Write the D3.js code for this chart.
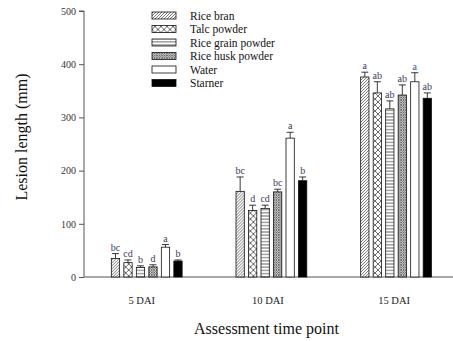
<!DOCTYPE html>
<html>
<head>
<meta charset="utf-8">
<script src="https://cdn.jsdelivr.net/npm/d3@7"></script>
<style>
  html, body { margin: 0; padding: 0; background: #fff; }
  svg { display: block; font-family: "Liberation Serif", "Times New Roman", serif; }
</style>
</head>
<body>
<svg id="chart" width="453" height="341"></svg>
<script>
const categories = ["5 DAI", "10 DAI", "15 DAI"];
const series = ["Rice bran", "Talc powder", "Rice grain powder", "Rice husk powder", "Water", "Starner"];
const riceBran   = [35, 161, 376];
const talc       = [27, 125, 346];
const riceGrain  = [18, 129, 316];
const riceHusk   = [19, 160, 342];
const water      = [56, 261, 367];
const starner    = [30, 181, 336];
const riceBranErr  = [9, 27, 9];
const talcErr      = [5, 10, 21];
const riceGrainErr = [3, 6, 15];
const riceHuskErr  = [4, 5, 19];
const waterErr     = [5, 11, 17];
const starnerErr   = [2, 7, 10];
const riceBranLet  = ["bc", "bc", "a"];
const talcLet      = ["cd", "d", "ab"];
const riceGrainLet = ["b", "cd", "ab"];
const riceHuskLet  = ["d", "bc", "ab"];
const waterLet     = ["a", "a", "a"];
const starnerLet   = ["b", "b", "ab"];
const yTicks = [0, 100, 200, 300, 400, 500];

const values = [riceBran, talc, riceGrain, riceHusk, water, starner];
const errs = [riceBranErr, talcErr, riceGrainErr, riceHuskErr, waterErr, starnerErr];
const lets = [riceBranLet, talcLet, riceGrainLet, riceHuskLet, waterLet, starnerLet];
const fills = ["url(#pBran)", "url(#pTalc)", "url(#pGrain)", "url(#pHusk)", "#ffffff", "#000000"];

const svg = d3.select("#chart");
const defs = svg.append("defs");

// patterns
const pBran = defs.append("pattern").attr("id", "pBran").attr("patternUnits", "userSpaceOnUse")
  .attr("width", 3).attr("height", 3);
pBran.append("rect").attr("width", 3).attr("height", 3).attr("fill", "#fff");
pBran.append("path").attr("d", "M0,3 L3,0 M-1,1 L1,-1 M2,4 L4,2").attr("stroke", "#555").attr("stroke-width", 0.8);

const pTalc = defs.append("pattern").attr("id", "pTalc").attr("patternUnits", "userSpaceOnUse")
  .attr("width", 6).attr("height", 6);
pTalc.append("rect").attr("width", 6).attr("height", 6).attr("fill", "#fff");
pTalc.append("path").attr("d", "M0,0 L6,6 M6,0 L0,6").attr("stroke", "#444").attr("stroke-width", 0.8);

const pGrain = defs.append("pattern").attr("id", "pGrain").attr("patternUnits", "userSpaceOnUse")
  .attr("width", 4).attr("height", 3.2);
pGrain.append("rect").attr("width", 4).attr("height", 3.2).attr("fill", "#fff");
pGrain.append("path").attr("d", "M0,1.6 L4,1.6").attr("stroke", "#333").attr("stroke-width", 0.8);

const pHusk = defs.append("pattern").attr("id", "pHusk").attr("patternUnits", "userSpaceOnUse")
  .attr("width", 2.5).attr("height", 2.5);
pHusk.append("rect").attr("width", 2.5).attr("height", 2.5).attr("fill", "#ddd");
pHusk.append("path").attr("d", "M0,0 L2.5,2.5 M2.5,0 L0,2.5").attr("stroke", "#555").attr("stroke-width", 0.7);

// scales
const y = d3.scaleLinear().domain([0, 500]).range([277, 11]);
const x0 = d3.scaleBand().domain(categories).range([84.4, 458.4]).padding(0);
const x1 = d3.scaleBand().domain(series).range([-37.5, 37.5]).paddingInner(0.336).paddingOuter(0.168);

const axisColor = "#555";

// y axis
const yAxis = svg.append("g").attr("transform", "translate(84,0)")
  .call(d3.axisLeft(y).tickValues(yTicks).tickSize(5).tickPadding(3));
yAxis.selectAll("path, line").attr("stroke", axisColor);
yAxis.selectAll("text").attr("font-family", "Liberation Serif").attr("font-size", 10).attr("fill", "#333");
yAxis.select(".domain").attr("d", `M-5,${y(500)}H0V${y(0)}`);

// x axis
const xAxis = svg.append("g").attr("transform", `translate(0,${y(0)})`)
  .call(d3.axisBottom(x0).tickSize(0).tickPadding(20));
xAxis.select(".domain").attr("stroke", axisColor).attr("d", `M84,0H453`);
xAxis.selectAll("text").attr("font-family", "Liberation Serif").attr("font-size", 10.5).attr("fill", "#222")
  .attr("dx", (d, i) => [-5, -3.5, -2][i]);

// bars
const groups = svg.append("g").selectAll("g").data(categories).join("g")
  .attr("transform", d => `translate(${x0(d) + x0.bandwidth() / 2},0)`);

groups.each(function(cat, ci) {
  const g = d3.select(this);
  const rows = series.map((s, si) => ({ s, si, v: values[si][ci], e: errs[si][ci], l: lets[si][ci] }));
  g.selectAll("rect.bar").data(rows).join("rect").attr("class", "bar")
    .attr("x", d => x1(d.s)).attr("width", x1.bandwidth())
    .attr("y", d => y(d.v)).attr("height", d => y(0) - y(d.v))
    .attr("fill", d => fills[d.si]).attr("stroke", "#111").attr("stroke-width", 0.8);
  g.selectAll("path.err").data(rows).join("path").attr("class", "err")
    .attr("d", d => {
      const cx = x1(d.s) + x1.bandwidth() / 2;
      return `M${cx},${y(d.v)}V${y(d.v + d.e)}M${cx - 3.5},${y(d.v + d.e)}H${cx + 3.5}`;
    })
    .attr("stroke", "#222").attr("stroke-width", 0.9).attr("fill", "none");
  g.selectAll("text.let").data(rows).join("text").attr("class", "let")
    .attr("x", d => x1(d.s) + x1.bandwidth() / 2)
    .attr("y", d => y(d.v + d.e) - 3)
    .attr("text-anchor", "middle").attr("font-size", 10)
    .attr("fill", d => (d.si === 4 && ci === 2) ? "#2f5597" : "#3d3a5c")
    .text(d => d.l);
});

// legend
const legend = svg.append("g").attr("transform", "translate(152,10)");
const li = legend.selectAll("g").data(series).join("g")
  .attr("transform", (d, i) => `translate(0,${i * 13.5})`);
li.append("rect").attr("width", 24).attr("height", 7).attr("y", 2)
  .attr("fill", (d, i) => fills[i]).attr("stroke", "#111").attr("stroke-width", 0.8);
li.append("text").attr("x", 38).attr("y", 9.5).attr("font-size", 11.5).attr("fill", "#111").text(d => d);

// axis titles
svg.append("text").attr("transform", "translate(27,137) rotate(-90)")
  .attr("text-anchor", "middle").attr("font-size", 16).attr("fill", "#111").text("Lesion length (mm)");
svg.append("text").attr("x", 266.5).attr("y", 334)
  .attr("text-anchor", "middle").attr("font-size", 16).attr("fill", "#111").text("Assessment time point");
</script>
</body>
</html>
